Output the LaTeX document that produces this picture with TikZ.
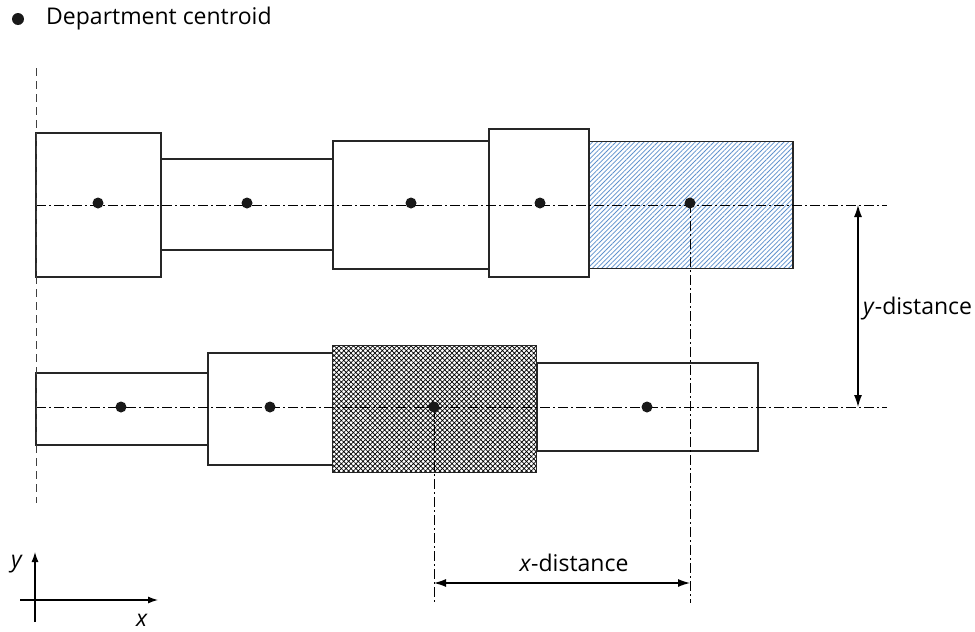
\documentclass[tikz,border=0pt]{standalone}
\usepackage{fontspec}
\setmainfont{Open Sans}
\usetikzlibrary{arrows.meta,patterns.meta}
\definecolor{hatchblue}{RGB}{95,145,205}
\begin{document}
\begin{tikzpicture}[x=1pt,y=-1pt,
  dept/.style={draw=black!85,line width=1.4pt,fill=white,inner sep=0pt,outer sep=0pt,rectangle},
  bluehatch/.style={pattern={Lines[angle=45,distance=3.3pt,line width=0.8pt]},pattern color=hatchblue},
  crosshatch/.style={pattern={Hatch[angle=45,distance=3.4pt,line width=0.7pt]},pattern color=black},
  cdot/.style={fill=black!90},
  axisline/.style={line width=1pt,dash pattern=on 10pt off 3pt on 2pt off 3pt},
  vdash/.style={line width=1pt,black!75,dash pattern=on 8pt off 5pt},
  dimarrow/.style={line width=1.2pt,{Latex[length=12pt,width=8pt]}-{Latex[length=12pt,width=8pt]}},
  lbl/.style={font=\fontsize{23}{26}\selectfont,inner sep=0pt}]
\useasboundingbox (0,0) rectangle (975,632);
% legend
\fill[cdot] (18,19) circle (6);
\node[lbl,anchor=west] (legend) at (46,19) {Department centroid};
% top row
\node[dept,minimum width=125pt,minimum height=144pt] (t1) at (98.5,205) {};
\node[dept,minimum width=172pt,minimum height=91pt] (t2) at (247,204.5) {};
\node[dept,minimum width=156pt,minimum height=128pt] (t3) at (411,205) {};
\node[dept,minimum width=100pt,minimum height=148pt] (t4) at (539,203) {};
\node[dept,minimum width=204pt,minimum height=127pt] (t5) at (691,205) {};
\path[bluehatch] (t5.south west) rectangle (t5.north east);
\draw[black!85,line width=1.4pt] (t5.south west) rectangle (t5.north east);
% bottom row
\node[dept,minimum width=172pt,minimum height=72pt] (b1) at (122,409) {};
\node[dept,minimum width=125pt,minimum height=112pt] (b2) at (270.5,409) {};
\node[dept,minimum width=204pt,minimum height=127pt] (b3) at (434.5,409) {};
\node[dept,minimum width=221pt,minimum height=88pt] (b4) at (647.5,407) {};
\path[crosshatch] (b3.south west) rectangle (b3.north east);
\draw[black!85,line width=1.4pt] (b3.south west) rectangle (b3.north east);
% centroids
\coordinate (ct1) at (98,203);
\coordinate (ct2) at (247,203);
\coordinate (ct3) at (411,203);
\coordinate (ct4) at (540,203);
\coordinate (ct5) at (690,203);
\coordinate (cb1) at (121,407);
\coordinate (cb2) at (270,407);
\coordinate (cb3) at (434,407);
\coordinate (cb4) at (647,407);
% centre lines
\coordinate (tl) at (36,205);
\coordinate (tr) at (887,205);
\coordinate (bl) at (36,407);
\coordinate (br) at (887,407);
\draw[axisline] (tl) -- (tr);
\draw[axisline] (bl) -- (br);
\coordinate (vt) at (36,68);
\coordinate (vb) at (36,503);
\draw[vdash] (vt) -- (vb);
\coordinate (xa) at (434,603);
\coordinate (xb) at (690,603);
\draw[axisline] (cb3) -- (xa);
\draw[axisline] (ct5) -- (xb);
\foreach \c in {ct1,ct2,ct3,ct4,ct5,cb1,cb2,cb3,cb4} \fill[cdot] (\c) circle (5.5);
% x-distance
\coordinate (xd1) at (434,583);
\coordinate (xd2) at (690,583);
\draw[dimarrow] (xd1) -- (xd2);
\node[lbl] (xlbl) at (574,563) {\textit{x}-distance};
% y-distance
\coordinate (yd1) at (858,205);
\coordinate (yd2) at (858,407);
\draw[dimarrow] (yd1) -- (yd2);
\node[lbl,anchor=west] (ylbl) at (863,309) {\textit{y}-distance};
% axes
\coordinate (ax) at (158,600);
\coordinate (ay) at (35,552);
\coordinate (axl) at (20,600);
\coordinate (ayl) at (35,622);
\draw[line width=1.2pt,-{Latex[length=10pt,width=7pt]}] (axl) -- (ax);
\draw[line width=1.2pt,-{Latex[length=10pt,width=7pt]}] (ayl) -- (ay);
\node[lbl] (ylab) at (17,564) {\textit{y}};
\node[lbl] (xlab) at (142,620) {\textit{x}};
\end{tikzpicture}
\end{document}
